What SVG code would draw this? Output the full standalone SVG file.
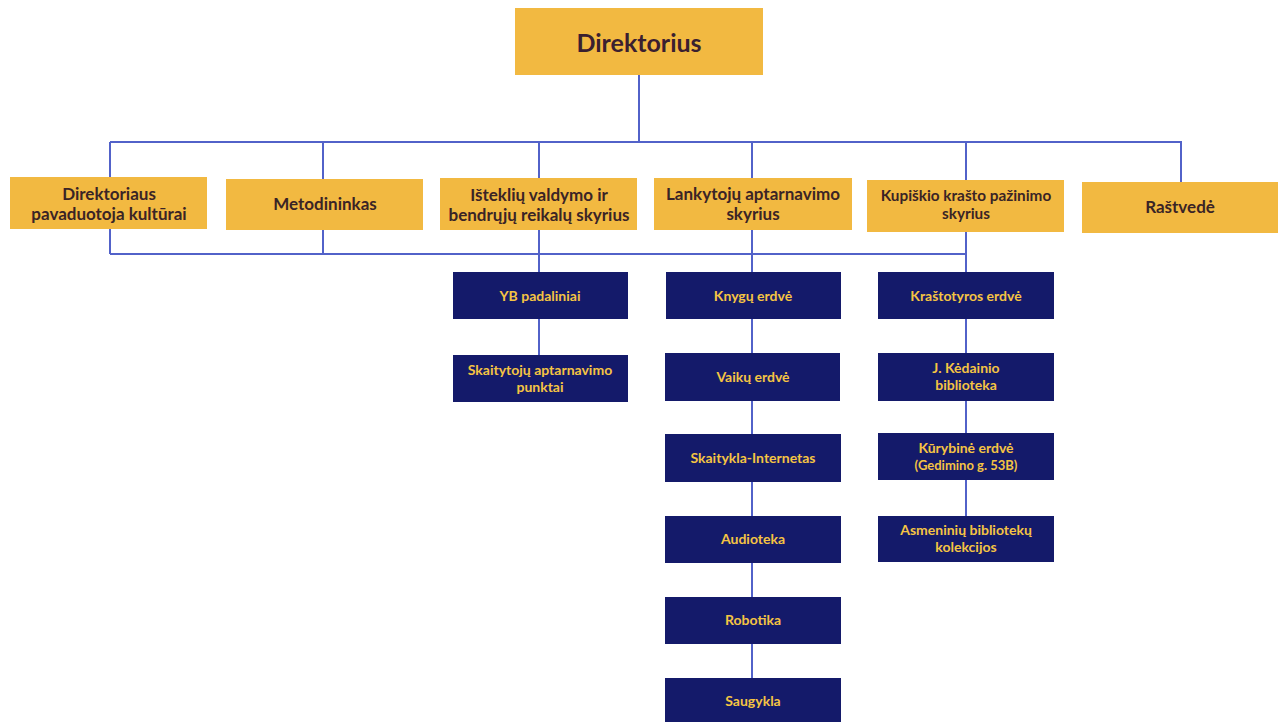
<svg xmlns="http://www.w3.org/2000/svg" width="1284" height="722" viewBox="0 0 1284 722">
<style>
.o{fill:#F2B941}
.d{fill:#141A6A}
.c{stroke:#5262C9;stroke-width:2;fill:none}
.t{font-family:Lato,"Open Sans",sans-serif;text-anchor:middle}
.ot{fill:#3A2426;font-weight:700;font-size:17px}
.dt{fill:#F5C443;font-weight:700;font-size:14px}
.ot.s{font-size:15.3px}
.dt.s{font-size:13px}
</style>
<rect width="1284" height="722" fill="#fff"/>
<g id="connectors" class="c">
<path d="M639 75V142M110 142H1182M110 142V254M323 142V254M539 142V254M752 142V254M966 142V254M1181 142V182M110 254H966"/>
<path d="M539 254V355M752 254V678M966 254V516"/>
</g>
<g id="n-direktorius"><rect class="o" x="515" y="8" width="248" height="67"/><text class="t" x="639" y="52" fill="#3A2030" font-weight="700" font-size="25">Direktorius</text></g>
<g id="n-pav"><rect class="o" x="10" y="177" width="197" height="52"/><text class="t ot" x="109" y="200">Direktoriaus</text><text class="t ot" x="109" y="220">pavaduotoja kultūrai</text></g>
<g id="n-metod"><rect class="o" x="226" y="179" width="197" height="51"/><text class="t ot" x="325" y="210">Metodininkas</text></g>
<g id="n-istekliu"><rect class="o" x="440" y="178" width="197" height="52"/><text class="t ot" x="539" y="201">Išteklių valdymo ir</text><text class="t ot" x="539" y="221">bendrųjų reikalų skyrius</text></g>
<g id="n-lankytoju"><rect class="o" x="654" y="178" width="198" height="52"/><text class="t ot" x="753" y="200">Lankytojų aptarnavimo</text><text class="t ot" x="753" y="220">skyrius</text></g>
<g id="n-kupiskio"><rect class="o" x="867" y="180" width="197" height="52"/><text class="t ot s" x="966" y="201">Kupiškio krašto pažinimo</text><text class="t ot s" x="966" y="219">skyrius</text></g>
<g id="n-rastvede"><rect class="o" x="1082" y="182" width="196" height="51"/><text class="t ot" x="1180" y="213">Raštvedė</text></g>
<g id="n-yb"><rect class="d" x="453" y="272" width="175" height="47"/><text class="t dt" x="540" y="301">YB padaliniai</text></g>
<g id="n-stp"><rect class="d" x="453" y="355" width="175" height="47"/><text class="t dt" x="540" y="375">Skaitytojų aptarnavimo</text><text class="t dt" x="540" y="392">punktai</text></g>
<g id="n-knygu"><rect class="d" x="666" y="272" width="175" height="47"/><text class="t dt" x="753" y="301">Knygų erdvė</text></g>
<g id="n-vaiku"><rect class="d" x="665" y="353" width="175" height="48"/><text class="t dt" x="753" y="382">Vaikų erdvė</text></g>
<g id="n-skaitykla"><rect class="d" x="665" y="434" width="176" height="48"/><text class="t dt" x="753" y="463">Skaitykla-Internetas</text></g>
<g id="n-audioteka"><rect class="d" x="665" y="516" width="176" height="47"/><text class="t dt" x="753" y="544">Audioteka</text></g>
<g id="n-robotika"><rect class="d" x="665" y="597" width="176" height="47"/><text class="t dt" x="753" y="625">Robotika</text></g>
<g id="n-saugykla"><rect class="d" x="665" y="678" width="176" height="47"/><text class="t dt" x="753" y="706">Saugykla</text></g>
<g id="n-krastotyros"><rect class="d" x="878" y="272" width="176" height="47"/><text class="t dt" x="966" y="301">Kraštotyros erdvė</text></g>
<g id="n-kedainio"><rect class="d" x="878" y="353" width="176" height="48"/><text class="t dt" x="966" y="373">J. Kėdainio</text><text class="t dt" x="966" y="390">biblioteka</text></g>
<g id="n-kurybine"><rect class="d" x="878" y="433" width="176" height="47"/><text class="t dt" x="966" y="453">Kūrybinė erdvė</text><text class="t dt s" x="966" y="470">(Gedimino g. 53B)</text></g>
<g id="n-asmeniniu"><rect class="d" x="878" y="516" width="176" height="46"/><text class="t dt" x="966" y="535">Asmeninių bibliotekų</text><text class="t dt" x="966" y="552">kolekcijos</text></g>
</svg>
